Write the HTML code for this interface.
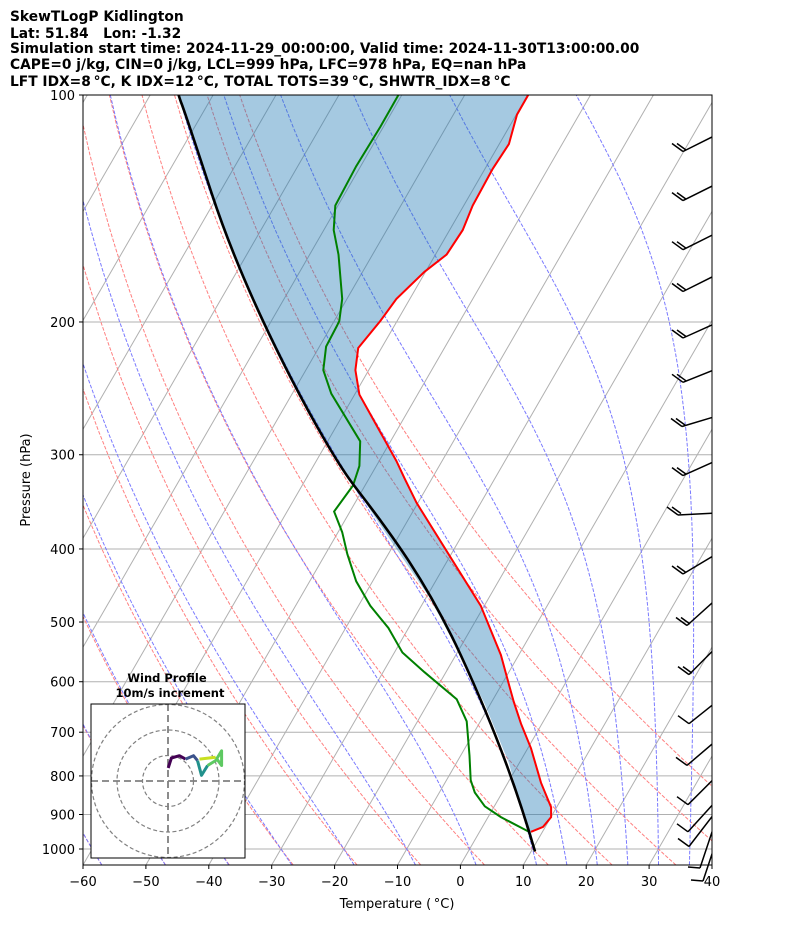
<!DOCTYPE html>
<html><head><meta charset="utf-8"><style>
body{margin:0;background:#fff;width:794px;height:937px;overflow:hidden}
svg{display:block}
text{font-family:"DejaVu Sans","Liberation Sans",sans-serif}
</style></head><body>
<svg id="s" width="794" height="937" xmlns="http://www.w3.org/2000/svg">
<defs><clipPath id="c"><rect x="83" y="95" width="629" height="770"/></clipPath>
<clipPath id="bc"><rect x="0" y="0" width="712" height="937"/></clipPath>
<clipPath id="h"><rect x="91" y="704" width="154" height="154"/></clipPath></defs>
<g font-weight="bold" font-size="13.8" style="white-space:pre">
<text x="10" y="21">SkewTLogP Kidlington</text>
<text x="10" y="38">Lat: 51.84&#160;&#160;&#160;Lon: -1.32</text>
<text x="10" y="53">Simulation start time: 2024-11-29_00:00:00, Valid time: 2024-11-30T13:00:00.00</text>
<text x="10" y="69">CAPE=0 j/kg, CIN=0 j/kg, LCL=999 hPa, LFC=978 hPa, EQ=nan hPa</text>
<text x="10" y="86">LFT IDX=8&#8201;&#176;C, K IDX=12&#8201;&#176;C, TOTAL TOTS=39&#8201;&#176;C, SHWTR_IDX=8&#8201;&#176;C</text>
</g>
<g id="bg" clip-path="url(#c)"></g>
<g clip-path="url(#c)">
<polygon fill="rgb(31,119,180)" fill-opacity="0.4" points="535,851.4 525,822 508.9,763 484.8,704.1 460.7,655 428.5,596 388.4,537.1 352.2,483 308,409.4 271.8,340.6 235.7,262 211.6,193.2 191.5,134.3 178.6,95 528.2,95 517,114.6 508.9,144.1 492.8,168.7 472.7,205.5 462.7,230.1 446.6,254.6 424.5,271.8 396.4,298.9 380.3,321 358.2,348 355.4,370.1 359.4,394.6 396.4,461 404.4,478.1 416.5,502.7 480.8,605.8 500.9,655 508.9,684.4 513.7,701.6 521,723.7 531,748.3 541,782.7 551.1,807.2 551.1,817.1 543,826.9 531,831.8 535,851.4"/>
<polyline fill="none" stroke="#f00" stroke-width="2" points="528.2,95 517,114.6 508.9,144.1 492.8,168.7 472.7,205.5 462.7,230.1 446.6,254.6 424.5,271.8 396.4,298.9 380.3,321 358.2,348 355.4,370.1 359.4,394.6 396.4,461 404.4,478.1 416.5,502.7 480.8,605.8 500.9,655 508.9,684.4 513.7,701.6 521,723.7 531,748.3 541,782.7 551.1,807.2 551.1,817.1 543,826.9 531,831.8"/>
<polyline fill="none" stroke="#008000" stroke-width="2" points="398.4,95 380.3,126.9 356.2,166.2 335.3,205.5 333.7,230.1 338.5,254.6 342.2,298.9 339.3,321 336.9,325.9 326.1,346.5 323.3,370.1 331.3,393.7 360.2,441.3 359.4,465.9 353,485.5 334.1,511.5 342.2,532.2 347.4,554.3 356.2,581.3 370.3,605.8 388.4,628 402.4,652.5 424.5,672.2 456.7,699.2 466.7,721.3 469.5,755.7 470.7,780.2 474.8,792.5 484.8,806.3 500.9,817.1 529,831.8 535,851.4"/>
<path fill="none" stroke="#000" stroke-width="2.6" d="M535,851.4 C520,800 500,740 460.7,655 S380,520 352.2,483 S250,310 211.6,193.2 S185,115 178.6,95"/>
</g>
<g id="barbs" stroke="#000" stroke-width="1.5" fill="none" clip-path="url(#bc)"></g>
<rect x="83" y="95" width="629" height="770" fill="none" stroke="#000" stroke-width="1"/>
<g id="ticks" font-size="13"></g>
<text x="397" y="908" font-size="13" text-anchor="middle">Temperature (&#8201;&#176;C)</text>
<text transform="translate(30,480) rotate(-90)" font-size="13" text-anchor="middle">Pressure (hPa)</text>
<g font-weight="bold" font-size="11.5" text-anchor="middle"><text x="167" y="682">Wind Profile</text><text x="170" y="697">10m/s increment</text></g>
<rect x="91" y="704" width="154" height="154" fill="#fff" stroke="none"/>
<g clip-path="url(#h)" fill="none" stroke="#808080" stroke-width="1.2" stroke-dasharray="4,2.5">
<circle cx="168" cy="781" r="25.5"/><circle cx="168" cy="781" r="51"/><circle cx="168" cy="781" r="76.5"/>
<line x1="168" y1="704" x2="168" y2="858" stroke-width="1.8" stroke-dasharray="7,4"/><line x1="91" y1="781" x2="245" y2="781" stroke-width="1.8" stroke-dasharray="7,4"/>
</g>
<g fill="none" stroke-width="3" stroke-linejoin="round">
<polyline stroke="#440154" points="168.2,768 171.4,758 179.4,755.7 185.5,759.1"/>
<polyline stroke="#3b528b" points="185.5,759.1 193.5,755.7 197.5,760.6"/>
<polyline stroke="#21918c" points="197.5,760.6 201.5,775.3 207.6,765.5"/>
<polyline stroke="#5ec962" points="207.6,765.5 215.6,760.6 221.6,750.8 221.6,765.5 215.6,757.2"/>
<polyline stroke="#c8e020" points="215.6,757.2 199.5,759.1"/>
</g>
<rect x="91" y="704" width="154" height="154" fill="none" stroke="#000" stroke-width="1"/>
</svg>
<script>
function X(T,y){return 83+(T+60)*6.29+(865-y)*0.5774;}
function Y(p){return 95+754*Math.log10(p/100);}
var bg=document.getElementById('bg'),s='';
function pl(pts,st,dash){return '<polyline fill="none" stroke="'+st+'" stroke-width="1" '+(dash?'stroke-dasharray="3.7,1.6" ':'')+'points="'+pts.map(function(q){return q[0].toFixed(1)+','+q[1].toFixed(1)}).join(' ')+'"/>';}
[200,300,400,500,600,700,800,900,1000].forEach(function(p){var y=Y(p);s+='<line x1="83" x2="712" y1="'+y+'" y2="'+y+'" stroke="#b0b0b0" stroke-width="1"/>';});
for(var T=-150;T<=50;T+=10){s+='<line x1="'+X(T,865)+'" y1="865" x2="'+X(T,95)+'" y2="95" stroke="#b0b0b0" stroke-width="1"/>';}
for(var th=-60;th<=50;th+=10){var pts=[];for(var p=1050;p>=100;p-=10){var Tk=(th+273.15)*Math.pow(p/1000,0.2857)-273.15;var y=Y(p);pts.push([X(Tk,y),y]);}s+=pl(pts,'#ff8080',true);}
function es(Tc){return 6.112*Math.exp(17.67*Tc/(Tc+243.5));}
function dTdp(p,Tk){var Rd=287.04,Cp=1005.7,Lv=2.501e6,eps=0.622;var e=es(Tk-273.15);var rs=eps*e/(p-e);return (Rd*Tk+Lv*rs)/(Cp+Lv*Lv*rs*eps/(Rd*Tk*Tk))/p;}
[-60,-50,-40,-30,-20,-10,0,10,15,20,25,30,35].forEach(function(t0){
 var pts=[];var T2=t0+273.15;for(var pp=1000;pp<1050;pp+=2){T2+=2*dTdp(pp,T2);}
 var Tb=T2;var y0=Y(1050);pts.push([X(Tb-273.15,y0),y0]);
 for(var pp=1050;pp>100;pp-=2){var k1=dTdp(pp,Tb),k2=dTdp(pp-1,Tb-k1),k3=dTdp(pp-1,Tb-k2),k4=dTdp(pp-2,Tb-2*k3);Tb-=2*(k1+2*k2+2*k3+k4)/6;var y=Y(pp-2);if((pp-2)%10==0)pts.push([X(Tb-273.15,y),y]);}
 s+=pl(pts,'#7a7aff',true);});
bg.innerHTML=s;
var tk='';
[100,200,300,400,500,600,700,800,900,1000].forEach(function(p){var y=Y(p);tk+='<line x1="79" x2="83" y1="'+y+'" y2="'+y+'" stroke="#000"/><text x="75" y="'+(y+5)+'" text-anchor="end">'+p+'</text>';});
for(var T=-60;T<=40;T+=10){var x=83+(T+60)*6.29;tk+='<line x1="'+x+'" x2="'+x+'" y1="865" y2="869" stroke="#000"/><text x="'+x+'" y="886" text-anchor="middle">'+(T<0?'\u2212'+(-T):T)+'</text>';}
document.getElementById('ticks').innerHTML=tk;
var b='';
var ys=[151.5,200.6,249.7,291.5,338,382.3,426.5,475.6,515,574,625.5,674.6,723.7,765.4,804.7,831.8,846.5,868,881];
var sls=[0.5,0.5,0.5,0.5,0.45,0.4,0.3,0.45,0.05,0.6,0.9,1.0,0.8,0.85,1.0,1.1,1.3,3,3];
var bxs=[683,683,683,683,683,683,682,683,678,683,687,689,689,687,688,688,689,700,703];
ys.forEach(function(y,i){var bx=bxs[i],sl=sls[i];
 var len=70;var dx=len/Math.sqrt(1+sl*sl),dy=dx*sl;
 b+='<line x1="'+bx+'" y1="'+y+'" x2="'+(bx+dx)+'" y2="'+(y-dy)+'"/>';
 if(i<17){b+='<line x1="'+bx+'" y1="'+y+'" x2="'+(bx-11)+'" y2="'+(y-8)+'"/>';
 if(i<12)b+='<line x1="'+(bx+3)+'" y1="'+(y-1.5)+'" x2="'+(bx-6)+'" y2="'+(y-8)+'"/>';}
 else b+='<line x1="'+bx+'" y1="'+y+'" x2="'+(bx-12)+'" y2="'+(y-1)+'"/>';});
document.getElementById('barbs').innerHTML=b;
</script>
</body></html>
